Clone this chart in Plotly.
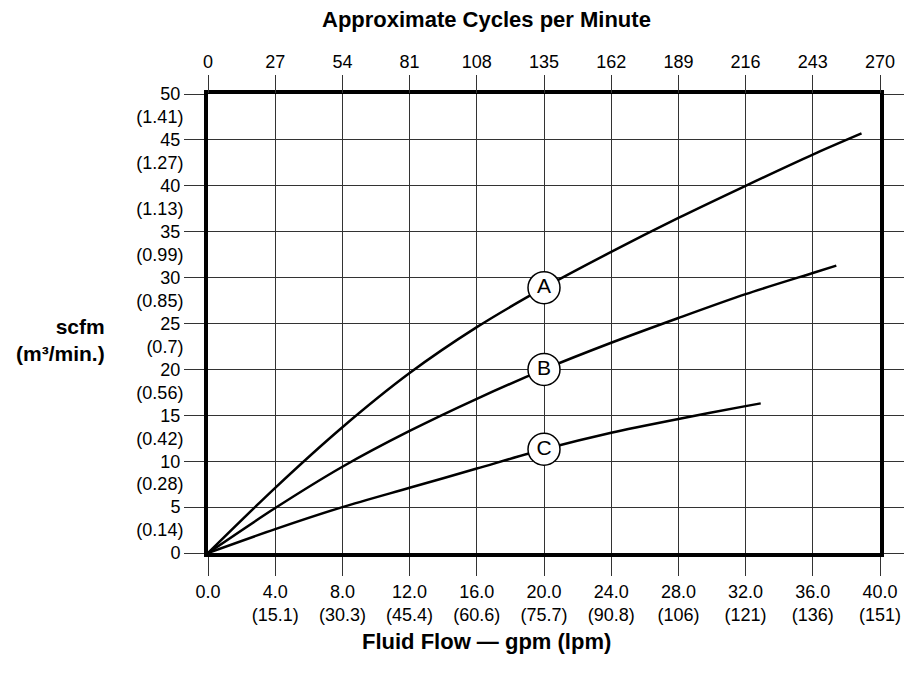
import plotly.graph_objects as go

# Air consumption curves: fluid flow (gpm) vs air use (scfm)
flow_gpm_a = [0, 4, 8, 12, 16, 20, 24, 28, 32, 36, 38.9]
scfm_a = [0, 7.1, 13.7, 19.6, 24.6, 28.9, 32.8, 36.5, 40.0, 43.4, 45.7]

flow_gpm_b = [0, 4, 8, 12, 16, 20, 24, 28, 32, 36, 37.4]
scfm_b = [0, 4.9, 9.4, 13.3, 16.8, 20.0, 22.9, 25.6, 28.2, 30.5, 31.3]

flow_gpm_c = [0, 4, 8, 12, 16, 20, 24, 28, 32, 32.9]
scfm_c = [0, 2.6, 5.0, 7.1, 9.2, 11.3, 13.1, 14.6, 16.0, 16.3]

curve_names = ["A", "B", "C"]
label_flow = 20

# Axis tick values and their secondary-unit labels
gpm_ticks = [0, 4, 8, 12, 16, 20, 24, 28, 32, 36, 40]
lpm_labels = ["", "15.1", "30.3", "45.4", "60.6", "75.7", "90.8", "106", "121", "136", "151"]
cpm_ticks = [0, 27, 54, 81, 108, 135, 162, 189, 216, 243, 270]
scfm_ticks = [0, 5, 10, 15, 20, 25, 30, 35, 40, 45, 50]
m3_ticks = [2.5, 7.5, 12.5, 17.5, 22.5, 27.5, 32.5, 37.5, 42.5, 47.5]
m3_labels = ["0.14", "0.28", "0.42", "0.56", "0.7", "0.85", "0.99", "1.13", "1.27", "1.41"]

FONT = "Liberation Sans, Arial, sans-serif"
GRID = "#333333"

bottom_text = [f"{g:.1f}" + (f"<br>({l})" if l else "") for g, l in zip(gpm_ticks, lpm_labels)]

fig = go.Figure()
curves = [(flow_gpm_a, scfm_a), (flow_gpm_b, scfm_b), (flow_gpm_c, scfm_c)]
for (xs, ys), name in zip(curves, curve_names):
    fig.add_trace(go.Scatter(
        x=xs, y=ys, mode="lines", name=name,
        line=dict(color="black", width=2.5, shape="spline", smoothing=0.8),
        hoverinfo="skip", showlegend=False,
    ))

# Circled curve letters sitting on each curve
label_y = [ys[xs.index(label_flow)] for xs, ys in curves]
fig.add_trace(go.Scatter(
    x=[label_flow] * 3, y=label_y, mode="markers+text",
    text=curve_names, textposition="middle center",
    textfont=dict(family=FONT, size=21, color="black"),
    marker=dict(size=32, color="white", line=dict(color="black", width=1.5)),
    showlegend=False, hoverinfo="skip",
))

# Secondary y labels (m3/min) drawn between the scfm ticks
fig.add_trace(go.Scatter(x=[None], y=[None], yaxis="y2", showlegend=False))
# Top axis: approximate cycles per minute
fig.add_trace(go.Scatter(x=[None], y=[None], xaxis="x2", showlegend=False))

fig.update_layout(
    width=918, height=674,
    margin=dict(l=208, r=38, t=94, b=121),
    plot_bgcolor="white", paper_bgcolor="white",
    font=dict(family=FONT, size=18, color="black"),
    xaxis=dict(
        range=[0, 40], tickvals=gpm_ticks, ticktext=bottom_text,
        ticks="outside", ticklen=19, tickcolor=GRID, tickwidth=1,
        showgrid=True, gridcolor=GRID, gridwidth=1,
        showline=True, linecolor="black", linewidth=4, mirror=True,
        zeroline=False, fixedrange=True,
    ),
    xaxis2=dict(
        range=[0, 270], tickvals=cpm_ticks, overlaying="x", side="top",
        anchor="y", ticks="outside", ticklen=18, tickcolor=GRID, tickwidth=1,
        showgrid=False, showline=False, zeroline=False,
    ),
    yaxis=dict(
        range=[0, 50], tickvals=scfm_ticks,
        ticks="outside", ticklen=20, tickcolor=GRID, tickwidth=1,
        showgrid=True, gridcolor=GRID, gridwidth=1,
        showline=True, linecolor="black", linewidth=4, mirror="ticks",
        zeroline=False, fixedrange=True,
    ),
    yaxis2=dict(
        range=[0, 50], tickvals=m3_ticks, ticktext=[f"({v})" for v in m3_labels],
        overlaying="y", side="left", anchor="x",
        ticks="outside", ticklen=20, tickcolor="rgba(0,0,0,0)",
        showgrid=False, showline=False, zeroline=False,
    ),
    annotations=[
        dict(text="<b>Approximate Cycles per Minute</b>", xref="paper", yref="paper",
             x=0.415, y=1.0, yshift=75, yanchor="middle", showarrow=False,
             font=dict(family=FONT, size=22)),
        dict(text="<b>Fluid Flow — gpm (lpm)</b>", xref="paper", yref="paper",
             x=0.415, y=0.0, yshift=-88, yanchor="middle", showarrow=False,
             font=dict(family=FONT, size=22)),
        dict(text="<b>scfm<br>(m³/min.)</b>", xref="paper", yref="paper",
             x=0.0, xshift=-101, xanchor="right", y=0.464, yanchor="middle",
             showarrow=False, align="right",
             font=dict(family=FONT, size=21)),
    ],
)

fig.write_html("out.html")
